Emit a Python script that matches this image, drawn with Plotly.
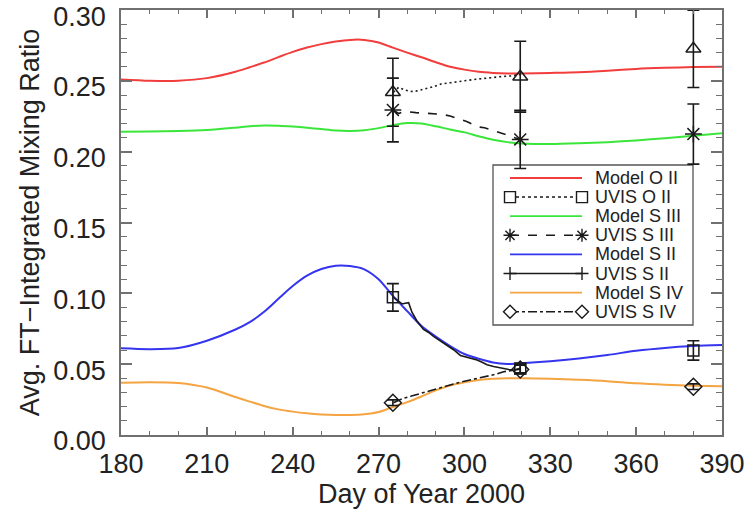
import plotly.graph_objects as go

# ---------------- data ----------------
# Model curves sampled on a common day grid
model_days = [180, 190, 200, 210, 220, 225, 230, 235, 240, 245, 250, 255, 260, 265, 270, 275,
              280, 285, 290, 295, 300, 305, 310, 315, 320, 330, 340, 350, 360, 370, 380, 390]
model_o2 = [0.2511, 0.2502, 0.2502, 0.2520, 0.2565, 0.2597, 0.2630, 0.2668, 0.2705, 0.2736,
            0.2760, 0.2778, 0.2790, 0.2790, 0.2772, 0.2735, 0.2700, 0.2667, 0.2632, 0.2600,
            0.2580, 0.2565, 0.2557, 0.2553, 0.2553, 0.2557, 0.2562, 0.2572, 0.2585, 0.2593,
            0.2598, 0.2600]
model_s3 = [0.2141, 0.2143, 0.2146, 0.2153, 0.2170, 0.2180, 0.2186, 0.2184, 0.2178, 0.2170,
            0.2160, 0.2150, 0.2147, 0.2152, 0.2167, 0.2188, 0.2203, 0.2200, 0.2180, 0.2157,
            0.2137, 0.2110, 0.2085, 0.2068, 0.2059, 0.2055, 0.2060, 0.2068, 0.2080, 0.2096,
            0.2113, 0.2130]
model_s2 = [0.0612, 0.0606, 0.0614, 0.0666, 0.0745, 0.0797, 0.0870, 0.0962, 0.1052, 0.1125,
            0.1172, 0.1195, 0.1193, 0.1170, 0.1100, 0.0982, 0.0875, 0.0770, 0.0695, 0.0628,
            0.0572, 0.0538, 0.0512, 0.0502, 0.0506, 0.0520, 0.0540, 0.0565, 0.0595, 0.0615,
            0.0628, 0.0635]
model_s4 = [0.0369, 0.0373, 0.0367, 0.0335, 0.0268, 0.0236, 0.0205, 0.0181, 0.0165, 0.0153,
            0.0145, 0.0141, 0.0141, 0.0146, 0.0162, 0.0198, 0.0232, 0.0272, 0.0315, 0.0350,
            0.0372, 0.0388, 0.0397, 0.0401, 0.0400, 0.0397, 0.0390, 0.0380, 0.0365, 0.0355,
            0.0348, 0.0344]

# UVIS continuous retrievals
oii_track_days = [275.2, 277, 279, 281, 283, 285, 287, 289, 292, 295, 298, 301, 304, 307,
                  310, 313, 316, 319.5]
oii_track = [0.2420, 0.2455, 0.2438, 0.2425, 0.2428, 0.2440, 0.2448, 0.2458, 0.2480, 0.2487,
             0.2496, 0.2507, 0.2512, 0.2518, 0.2526, 0.2531, 0.2535, 0.2545]

siii_track_days = [275.2, 277, 279, 281, 283, 286, 289, 292, 295, 297, 299, 301, 303, 305,
                   307, 309, 311, 313, 315, 317, 319.5]
siii_track = [0.2294, 0.2270, 0.2285, 0.2280, 0.2276, 0.2273, 0.2268, 0.2265, 0.2252, 0.2240,
              0.2228, 0.2212, 0.2192, 0.2175, 0.2170, 0.2158, 0.2145, 0.2135, 0.2118, 0.2102,
              0.2087]

sii_track_days = [275.2, 276.4, 278.2, 279.3, 280.5, 281.7, 283.4, 285.7, 287.5, 289.2, 291,
                  292.7, 294.5, 296.2, 298.6, 300.9, 302.5, 304.4, 306, 307.9, 310.2, 312,
                  313.7, 315.5, 317.2, 319.5]
sii_track = [0.0972, 0.0952, 0.0925, 0.0930, 0.0934, 0.0865, 0.0805, 0.0745, 0.0724, 0.0696,
             0.0672, 0.0644, 0.0626, 0.0602, 0.0562, 0.0550, 0.0545, 0.0530, 0.0516, 0.0496,
             0.0484, 0.0476, 0.0465, 0.0462, 0.0459, 0.0471]

siv_track_days = [275.2, 278.7, 281.5, 284.6, 287.5, 290.4, 293.3, 296.2, 299, 302, 305,
                  307.9, 310.8, 313.7, 316.6, 319.5]
siv_track = [0.0228, 0.0259, 0.0275, 0.0294, 0.0310, 0.0330, 0.0345, 0.0360, 0.0375, 0.0388,
             0.0400, 0.0412, 0.0428, 0.0447, 0.0456, 0.0464]

# UVIS averaged points with uncertainties
uvis_days = [275, 319.5, 380]
uvis_o2 = [0.2420, 0.2530, 0.2727]
uvis_o2_err = [0.0240, 0.0250, 0.0273]
uvis_s3 = [0.2295, 0.2087, 0.2125]
uvis_s3_err = [0.0225, 0.0205, 0.0212]
uvis_s2 = [0.0972, 0.0470, 0.0597]
uvis_s2_err = [0.0097, 0.0030, 0.0068]
uvis_s4 = [0.0228, 0.0462, 0.0341]
uvis_s4_err = [0.0020, 0.0030, 0.0020]

x_ticks = [180, 210, 240, 270, 300, 330, 360, 390]
y_ticks = [0.00, 0.05, 0.10, 0.15, 0.20, 0.25, 0.30]

legend_labels = ["Model O II", "UVIS O II", "Model S III", "UVIS S III",
                 "Model S II", "UVIS S II", "Model S IV", "UVIS S IV"]

# ---------------- styles ----------------
RED, GREEN, BLUE, ORANGE = "#f23d3d", "#3be63b", "#3535f0", "#f5a442"
INK = "#1a1a1a"
AXIS = "#707070"
FONT = "Liberation Sans, Arial, Helvetica, sans-serif"

fig = go.Figure()

for vals, col in [(model_o2, RED), (model_s3, GREEN), (model_s2, BLUE), (model_s4, ORANGE)]:
    fig.add_trace(go.Scatter(x=model_days, y=vals, mode="lines",
                             line=dict(color=col, width=2, shape="spline", smoothing=0.8),
                             hoverinfo="skip"))

for dx, dy, dash in [(oii_track_days, oii_track, "2px,3px"),
                     (siii_track_days, siii_track, "dash"),
                     (sii_track_days, sii_track, "solid"),
                     (siv_track_days, siv_track, "dashdot")]:
    fig.add_trace(go.Scatter(x=dx, y=dy, mode="lines",
                             line=dict(color=INK, width=1.6, dash=dash),
                             hoverinfo="skip"))

for vals, err, sym, size in [(uvis_o2, uvis_o2_err, "triangle-up-open", 13),
                             (uvis_s3, uvis_s3_err, "asterisk-open", 14),
                             (uvis_s2, uvis_s2_err, "square-open", 11),
                             (uvis_s4, uvis_s4_err, "diamond-open", 13)]:
    fig.add_trace(go.Scatter(
        x=uvis_days, y=vals, mode="markers",
        marker=dict(symbol=sym, size=size, color=INK, line=dict(color=INK, width=1.5)),
        error_y=dict(type="data", array=err, visible=True, thickness=1.6, width=6, color=INK),
        hoverinfo="skip"))

# ---------------- hand-drawn legend box ----------------
PL, PW, PB, PH = 121, 601, 435, 425   # plot area in pixels (left, width, bottom, height)


def fx(px):
    return (px - PL) / PW


def fy(py):
    return (PB - py) / PH


shapes = [dict(type="rect", xref="paper", yref="paper", x0=fx(493), x1=fx(693),
               y0=fy(325), y1=fy(165), line=dict(color="#555", width=1.3),
               fillcolor="white", layer="below")]
annotations = []

row_styles = [(RED, "solid", None), (INK, "dot", "square"),
              (GREEN, "solid", None), (INK, "dash", "asterisk"),
              (BLUE, "solid", None), (INK, "solid", "plus"),
              (ORANGE, "solid", None), (INK, "dashdot", "diamond")]

sx0, sx1, tx = 510, 582, 594
for i, (label, (col, dash, mk)) in enumerate(zip(legend_labels, row_styles)):
    py = 178.0 + 19.1 * i
    shapes.append(dict(type="line", xref="paper", yref="paper", x0=fx(sx0), x1=fx(sx1),
                       y0=fy(py), y1=fy(py), line=dict(color=col, width=1.8 if col != INK else 1.5,
                                                       dash=dash), layer="above"))
    for cx in (sx0, sx1):
        if mk == "square":
            h = 5.5
            shapes.append(dict(type="rect", xref="paper", yref="paper",
                               x0=fx(cx - h), x1=fx(cx + h), y0=fy(py + h), y1=fy(py - h),
                               line=dict(color=INK, width=1.4), fillcolor="white", layer="above"))
        elif mk == "diamond":
            h = 6.5
            path = (f"M{fx(cx - h)},{fy(py)} L{fx(cx)},{fy(py - h)} "
                    f"L{fx(cx + h)},{fy(py)} L{fx(cx)},{fy(py + h)} Z")
            shapes.append(dict(type="path", xref="paper", yref="paper", path=path,
                               line=dict(color=INK, width=1.4), fillcolor="white", layer="above"))
        elif mk == "asterisk":
            h, d = 6.5, 4.6
            path = (f"M{fx(cx - h)},{fy(py)} L{fx(cx + h)},{fy(py)} "
                    f"M{fx(cx)},{fy(py - h)} L{fx(cx)},{fy(py + h)} "
                    f"M{fx(cx - d)},{fy(py - d)} L{fx(cx + d)},{fy(py + d)} "
                    f"M{fx(cx - d)},{fy(py + d)} L{fx(cx + d)},{fy(py - d)}")
            shapes.append(dict(type="path", xref="paper", yref="paper", path=path,
                               line=dict(color=INK, width=1.4), layer="above"))
        elif mk == "plus":
            h = 6.5
            path = (f"M{fx(cx - h)},{fy(py)} L{fx(cx + h)},{fy(py)} "
                    f"M{fx(cx)},{fy(py - h)} L{fx(cx)},{fy(py + h)}")
            shapes.append(dict(type="path", xref="paper", yref="paper", path=path,
                               line=dict(color=INK, width=1.4), layer="above"))
    annotations.append(dict(text=label, xref="paper", yref="paper", x=fx(tx), y=fy(py),
                            xanchor="left", yanchor="middle", showarrow=False, borderpad=0,
                            font=dict(family=FONT, size=18, color="#222")))

axis_common = dict(showline=True, linecolor=AXIS, linewidth=1.5, mirror="ticks",
                   ticks="inside", tickcolor=AXIS, tickwidth=1.5, showgrid=False,
                   zeroline=False, automargin=False, ticklabeloverflow="allow",
                   tickfont=dict(family=FONT, size=27, color="#222"))

fig.update_layout(
    width=747, height=510,
    margin=dict(l=PL, r=747 - PL - PW, t=PB - PH, b=510 - PB),
    paper_bgcolor="white", plot_bgcolor="white",
    showlegend=False,
    font=dict(family=FONT, color="#222"),
    shapes=shapes, annotations=annotations,
    xaxis=dict(range=[180, 390], tickmode="array", tickvals=x_ticks,
               ticktext=[str(v) for v in x_ticks], ticklen=8,
               minor=dict(dtick=10, tick0=180, ticks="inside", ticklen=4,
                          tickcolor=AXIS, tickwidth=1.2, showgrid=False),
               ticklabelstandoff=4,
               title=dict(text="Day of Year 2000", font=dict(family=FONT, size=27, color="#222"),
                          standoff=2),
               **axis_common),
    yaxis=dict(range=[0, 0.3001], tickmode="array", tickvals=y_ticks,
               ticktext=[f"{v:.2f}" for v in y_ticks], ticklen=11,
               minor=dict(dtick=0.01, tick0=0, ticks="inside", ticklen=6,
                          tickcolor=AXIS, tickwidth=1.2, showgrid=False),
               ticklabelstandoff=8, ticklabelshift=6,
               title=dict(text="Avg. FT\u2212Integrated Mixing Ratio",
                          font=dict(family=FONT, size=27, color="#222"), standoff=6),
               **axis_common),
)

fig.write_html("out.html")
